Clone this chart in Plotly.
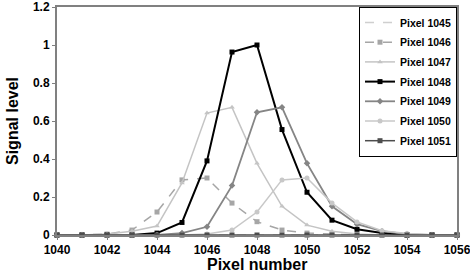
import plotly.graph_objects as go

x = list(range(1040, 1057))

p1045 = [0]*17
p1046 = [0, 0, 0.005, 0.026, 0.121, 0.29, 0.30, 0.168, 0.07, 0.026, 0.01, 0.005, 0, 0, 0, 0, 0]
p1047 = [0, 0, 0.005, 0.02, 0.047, 0.274, 0.642, 0.672, 0.377, 0.151, 0.052, 0.02, 0.005, 0, 0, 0, 0]
p1048 = [0, 0, 0, 0, 0.01, 0.066, 0.39, 0.963, 1.0, 0.555, 0.225, 0.078, 0.03, 0.01, 0, 0, 0]
p1049 = [0, 0, 0, 0, 0, 0.01, 0.043, 0.26, 0.646, 0.672, 0.377, 0.151, 0.057, 0.02, 0.005, 0, 0]
p1050 = [0, 0, 0, 0, 0, 0, 0.005, 0.026, 0.121, 0.29, 0.30, 0.168, 0.069, 0.022, 0.008, 0, 0]
p1051 = [0]*17

series = [
    ("Pixel 1045", p1045, "#cfcfcf", "dash", None, 1.5),
    ("Pixel 1046", p1046, "#a6a6a6", "dash", "square", 1.5),
    ("Pixel 1047", p1047, "#c4c4c4", "solid", "triangle-up", 1.5),
    ("Pixel 1048", p1048, "#000000", "solid", "square", 2),
    ("Pixel 1049", p1049, "#858585", "solid", "diamond", 1.8),
    ("Pixel 1050", p1050, "#c8c8c8", "solid", "circle", 1.5),
    ("Pixel 1051", p1051, "#4d4d4d", "solid", "square", 1.5),
]

fig = go.Figure()
for name, vals, col, dash, sym, w in series:
    fig.add_trace(go.Scatter(
        x=x, y=vals, name=name, legendgroup=name,
        mode="lines" if sym is None else "lines+markers",
        line=dict(color=col, width=w, dash=dash),
        marker=dict(symbol=sym or "circle", size=5, color=col),
        cliponaxis=False,
    ))

font = dict(family="Liberation Sans, Arial, sans-serif", color="#000000", weight="bold")

B = 39
fig.update_layout(
    width=470, height=274,
    margin=dict(l=57, r=13, t=7, b=B),
    paper_bgcolor="white", plot_bgcolor="white",
    showlegend=True,
    legend=dict(
        x=1, y=1, xanchor="right", yanchor="top",
        bordercolor="#000000", borderwidth=1, bgcolor="white",
        font=dict(size=10.5, **font),
        itemwidth=30, tracegroupgap=0.7,
    ),
    font=font,
    annotations=[dict(
        text="Pixel number", xref="paper", yref="paper",
        x=0.5, y=-B / (274 - 7 - B), xanchor="center", yanchor="bottom",
        borderpad=0, showarrow=False, font=dict(size=16, **font),
    )],
)
fig.update_xaxes(
    range=[1040, 1056], dtick=2, tick0=1040,
    showgrid=False, zeroline=False, automargin=False,
    showline=True, linecolor="#808080", linewidth=1.5, mirror=True,
    ticks="outside", ticklen=3, tickcolor="#808080",
    ticklabeloverflow="allow",
    tickfont=dict(size=12, **font),
)
fig.update_yaxes(
    range=[0, 1.2], dtick=0.2,
    showgrid=False, zeroline=False, automargin=False,
    showline=True, linecolor="#808080", linewidth=2, mirror=True,
    ticks="outside", ticklen=3, tickcolor="#808080",
    ticklabeloverflow="allow",
    tickfont=dict(size=12, **font),
    title=dict(text="Signal level", font=dict(size=16, **font), standoff=10),
)

fig.write_html("out.html")
